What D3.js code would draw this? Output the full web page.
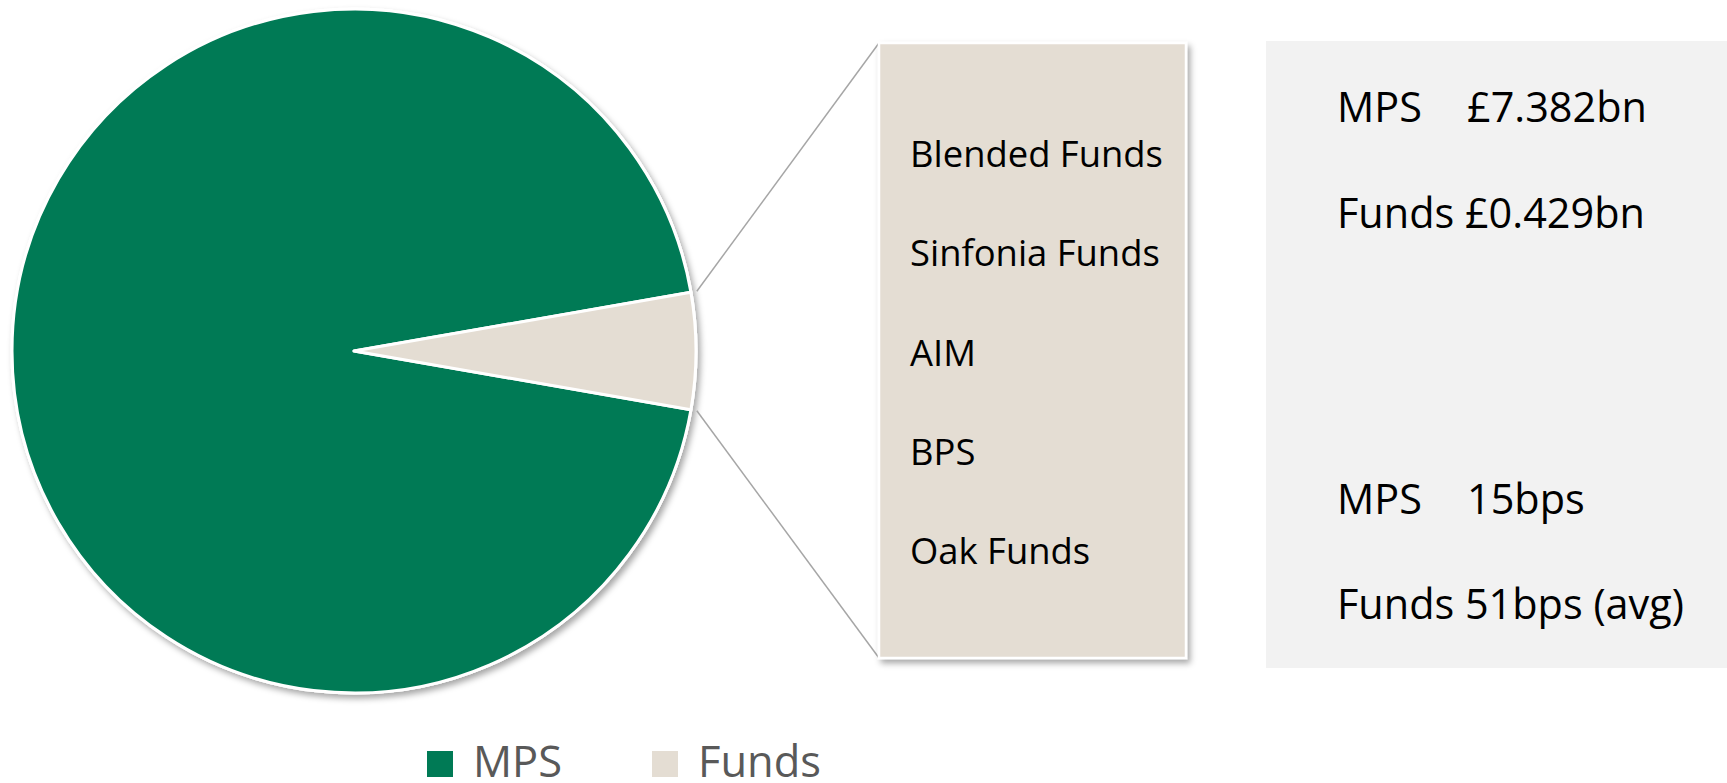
<!DOCTYPE html>
<html>
<head>
<meta charset="utf-8">
<script src="https://cdn.jsdelivr.net/npm/d3@7"></script>
<style>
  html, body { margin: 0; padding: 0; background: #ffffff; }
  svg { display: block; }
  text { font-family: "Open Sans", "Noto Sans", sans-serif; }
</style>
</head>
<body>
<svg id="chart" width="1727" height="783"></svg>
<script>
// ---------- data ----------
const categories = ["MPS", "Funds"];
const aumBn = [7.382, 0.429];
const aumLabels = ["£7.382bn", "£0.429bn"];
const feeLabels = ["15bps", "51bps (avg)"];
const fundNames = ["Blended Funds", "Sinfonia Funds", "AIM", "BPS", "Oak Funds"];
const colors = ["#007a55", "#e4ddd3"];

// ---------- setup ----------
const W = 1727, H = 783;
const svg = d3.select("#chart");

const defs = svg.append("defs");
const f = defs.append("filter").attr("id", "shadow")
  .attr("x", "-10%").attr("y", "-10%").attr("width", "125%").attr("height", "125%");
f.append("feDropShadow").attr("dx", 3).attr("dy", 4).attr("stdDeviation", 3)
  .attr("flood-color", "#000").attr("flood-opacity", 0.35);

// ---------- pie ----------
const cx = 354, cy = 351, R = 342;
const total = d3.sum(aumBn);
const fundsAngle = 2 * Math.PI * aumBn[1] / total;
const start = Math.PI / 2 + fundsAngle / 2;

const pie = d3.pie().sort(null).value(d => d.v)
  .startAngle(start).endAngle(start + 2 * Math.PI);
const arcs = pie(categories.map((c, i) => ({ c, v: aumBn[i], i })));
const arc = d3.arc().innerRadius(0).outerRadius(R);

const pg = svg.append("g").attr("transform", `translate(${cx},${cy})`);
pg.append("circle").attr("r", R + 1.5).attr("fill", "#fff").attr("filter", "url(#shadow)");
pg.selectAll("path.slice").data(arcs).join("path")
  .attr("class", "slice")
  .attr("d", arc)
  .attr("fill", d => colors[d.data.i])
  .attr("stroke", "#ffffff")
  .attr("stroke-width", 3)
  .attr("stroke-linejoin", "round");

// ---------- breakdown box ----------
const box1 = { x: 879, y: 43, w: 307, h: 615 };
const fundsArc = arcs[1];
const pt = (a, r) => [cx + r * Math.sin(a), cy - r * Math.cos(a)];
const pTop = pt(fundsArc.startAngle, R + 6);
const pBot = pt(fundsArc.endAngle, R + 6);
svg.append("line")
  .attr("x1", pTop[0]).attr("y1", pTop[1]).attr("x2", box1.x).attr("y2", box1.y)
  .attr("stroke", "#a6a6a6").attr("stroke-width", 1.5);
svg.append("line")
  .attr("x1", pBot[0]).attr("y1", pBot[1]).attr("x2", box1.x).attr("y2", box1.y + box1.h)
  .attr("stroke", "#a6a6a6").attr("stroke-width", 1.5);

svg.append("rect")
  .attr("x", box1.x).attr("y", box1.y).attr("width", box1.w).attr("height", box1.h)
  .attr("fill", colors[1]).attr("stroke", "#ffffff").attr("stroke-width", 2.5)
  .attr("filter", "url(#shadow)");

const rowY = d3.scalePoint().domain(fundNames).range([167, 564]);
const fundText = svg.append("g").selectAll("text").data(fundNames).join("text")
  .attr("x", 910).attr("y", d => rowY(d))
  .attr("fill", "#000")
  .text(d => d);

// ---------- stats box ----------
svg.append("rect")
  .attr("x", 1266).attr("y", 41).attr("width", W - 1266).attr("height", 627)
  .attr("fill", "#f2f2f2");

const statRows = [
  { label: categories[0], value: aumLabels[0], y: 122, tab: true },
  { label: categories[1], value: aumLabels[1], y: 228, tab: false },
  { label: categories[0], value: feeLabels[0], y: 514, tab: true },
  { label: categories[1], value: feeLabels[1], y: 619, tab: false }
];
const statText = svg.append("g").selectAll("text").data(statRows).join("text")
  .attr("x", 1337).attr("y", d => d.y).attr("fill", "#000");
statText.append("tspan").text(d => d.label);
statText.append("tspan")
  .attr("x", d => d.tab ? 1467 : null)
  .text(d => d.tab ? d.value : "\u00a0" + d.value);

// ---------- legend ----------
const legX = [427, 652];
const leg = svg.append("g").selectAll("g").data(categories).join("g")
  .attr("transform", (d, i) => `translate(${legX[i]},0)`);
leg.append("rect").attr("x", 0).attr("y", 751).attr("width", 26).attr("height", 26)
  .attr("fill", (d, i) => colors[i]);
const legText = leg.append("text").attr("x", 46).attr("y", 777)
  .attr("fill", "#595959").text(d => d);

// ---------- fit font sizes to the reference text widths ----------
function fit(sel, sample, target) {
  sel.attr("font-size", 40);
  const node = sel.filter(sample).node();
  const w = node.getComputedTextLength();
  sel.attr("font-size", 40 * target / w);
}
fit(fundText, d => d === "Blended Funds", 253);
fit(statText, (d, i) => i === 1, 308);
fit(legText, d => d === "Funds", 123);
</script>
</body>
</html>
